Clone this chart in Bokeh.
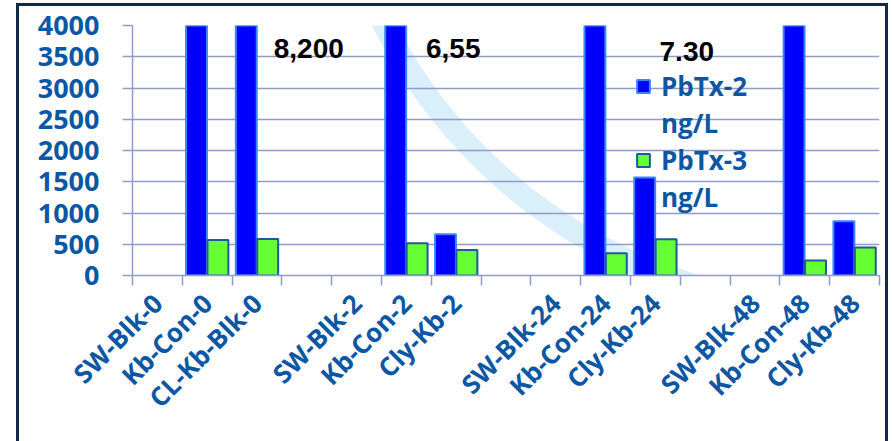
import math
from bokeh.plotting import figure
from bokeh.models import (ColumnDataSource, Range1d, FixedTicker, Legend,
                          LegendItem, Label)
from bokeh.embed import file_html
from bokeh.resources import INLINE

# ---- data ----
categories = ["SW-Blk-0", "Kb-Con-0", "CL-Kb-Blk-0", "",
              "SW-Blk-2", "Kb-Con-2", "Cly-Kb-2", "",
              "SW-Blk-24", "Kb-Con-24", "Cly-Kb-24", "",
              "SW-Blk-48", "Kb-Con-48", "Cly-Kb-48"]
pbtx2 = [0, 8200, 8200, 0, 0, 6550, 660, 0, 0, 7300, 1570, 0, 0, 7300, 870]
pbtx3 = [0, 570, 585, 0, 0, 515, 410, 0, 0, 355, 580, 0, 0, 240, 450]
y_ticks = [0, 500, 1000, 1500, 2000, 2500, 3000, 3500, 4000]
series_names = ["PbTx-2", "PbTx-3"]
unit = "ng/L"
notes = ["8,200", "6,55", "7.30"]

AXIS_BLUE = "#0b57a4"
GRID = "#8f9cc6"
BLUE = "#0000ff"
GREEN = "#66ff33"

slots = list(range(len(categories)))
X0, X1 = -0.5, len(categories) - 0.5
Y0, Y1 = 0, 4000
FRAME_W, FRAME_H = 741, 247

b_src = ColumnDataSource(dict(
    x=[i - 0.215 for i, v in zip(slots, pbtx2) if v > 0],
    top=[v for v in pbtx2 if v > 0]))
g_src = ColumnDataSource(dict(
    x=[i + 0.215 for i, v in zip(slots, pbtx3) if v > 0],
    top=[v for v in pbtx3 if v > 0]))

p = figure(width=872, height=438, output_backend="svg", toolbar_location=None,
           x_range=Range1d(X0, X1), y_range=Range1d(Y0, Y1))
p.min_border_left = 113
p.min_border_right = 12
p.min_border_top = 19
p.min_border_bottom = 169
p.outline_line_color = None
p.background_fill_color = "white"
p.border_fill_color = "white"
p.styles = {"border": "3px solid #10294d", "border-bottom": "0px",
            "margin-left": "16px", "margin-top": "3px"}

# watermark: faint arc of the background logo (frame pixel geometry -> data)
def px_to_data(fx, fy):
    return (X0 + fx / FRAME_W * (X1 - X0),
            Y0 + (FRAME_H - fy) / FRAME_H * (Y1 - Y0))

cx, cy = 704, -232          # arc centre, frame pixels (from frame top-left)
angles = [math.radians(60 + k) for k in range(0, 111)]
outer = [px_to_data(cx + 521 * math.cos(t), cy + 521 * math.sin(t)) for t in angles]
inner = [px_to_data(cx + 499 * math.cos(t), cy + 499 * math.sin(t)) for t in reversed(angles)]
ring = outer + inner
p.patch(x=[q[0] for q in ring], y=[q[1] for q in ring],
        fill_color="#d9effa", line_color=None, level="image")

blue = p.vbar(x="x", top="top", width=0.42, bottom=0, source=b_src,
              fill_color=BLUE, line_color="#3a86ff", line_width=2)
green = p.vbar(x="x", top="top", width=0.42, bottom=0, source=g_src,
               fill_color=GREEN, line_color="#1d5aa0", line_width=2)
blank = p.vbar(x=[], top=[], width=0.42, fill_alpha=0, line_alpha=0)

# axes
p.xgrid.grid_line_color = None
p.ygrid.grid_line_color = GRID
p.ygrid.grid_line_width = 1.5
p.yaxis.ticker = FixedTicker(ticks=y_ticks)
p.yaxis.axis_line_color = GRID
p.yaxis.axis_line_width = 1.5
p.yaxis.major_tick_line_color = GRID
p.yaxis.major_tick_line_width = 1.5
p.yaxis.major_tick_in = 0
p.yaxis.major_tick_out = 10
p.yaxis.minor_tick_line_color = None
p.yaxis.major_label_standoff = 23
p.yaxis.major_label_text_font = "Open Sans"
p.yaxis.major_label_text_font_style = "bold"
p.yaxis.major_label_text_font_size = "27px"
p.yaxis.major_label_text_color = AXIS_BLUE

p.xaxis.ticker = FixedTicker(ticks=slots,
                             minor_ticks=[i - 0.5 for i in range(len(categories) + 1)])
p.xaxis.major_label_overrides = {i: c for i, c in zip(slots, categories)}
p.xaxis.axis_line_color = GRID
p.xaxis.axis_line_width = 1.5
p.xaxis.major_tick_line_color = None
p.xaxis.major_tick_in = 0
p.xaxis.major_tick_out = 10
p.xaxis.minor_tick_line_color = GRID
p.xaxis.minor_tick_line_width = 1.5
p.xaxis.minor_tick_in = 0
p.xaxis.minor_tick_out = 10
p.xaxis.major_label_orientation = math.pi / 4
p.xaxis.major_label_standoff = 13
p.xaxis.major_label_text_font = "Open Sans"
p.xaxis.major_label_text_font_style = "bold"
p.xaxis.major_label_text_font_size = "26px"
p.xaxis.major_label_text_color = AXIS_BLUE

# notes of the clipped bars
for txt, nx, ny in zip(notes, [3.04, 5.94, 10.63], [3630, 3630, 3580]):
    p.add_layout(Label(x=nx, y=ny, text=txt, text_align="center",
                       text_baseline="alphabetic", text_font="Liberation Sans",
                       text_font_style="bold", text_font_size="28px",
                       text_color="black"))

legend = Legend(items=[LegendItem(label=series_names[0], renderers=[blue]),
                       LegendItem(label=unit, renderers=[blank]),
                       LegendItem(label=series_names[1], renderers=[green]),
                       LegendItem(label=unit, renderers=[blank])],
                location=(503, 60))
legend.background_fill_alpha = 0
legend.border_line_color = None
legend.padding = 0
legend.margin = 0
legend.spacing = 1
legend.glyph_width = 16
legend.glyph_height = 16
legend.label_standoff = 10
legend.label_text_font = "Open Sans"
legend.label_text_font_style = "bold"
legend.label_text_font_size = "26px"
legend.label_text_color = AXIS_BLUE
p.add_layout(legend)

open("out.html", "w").write(file_html(p, INLINE))
